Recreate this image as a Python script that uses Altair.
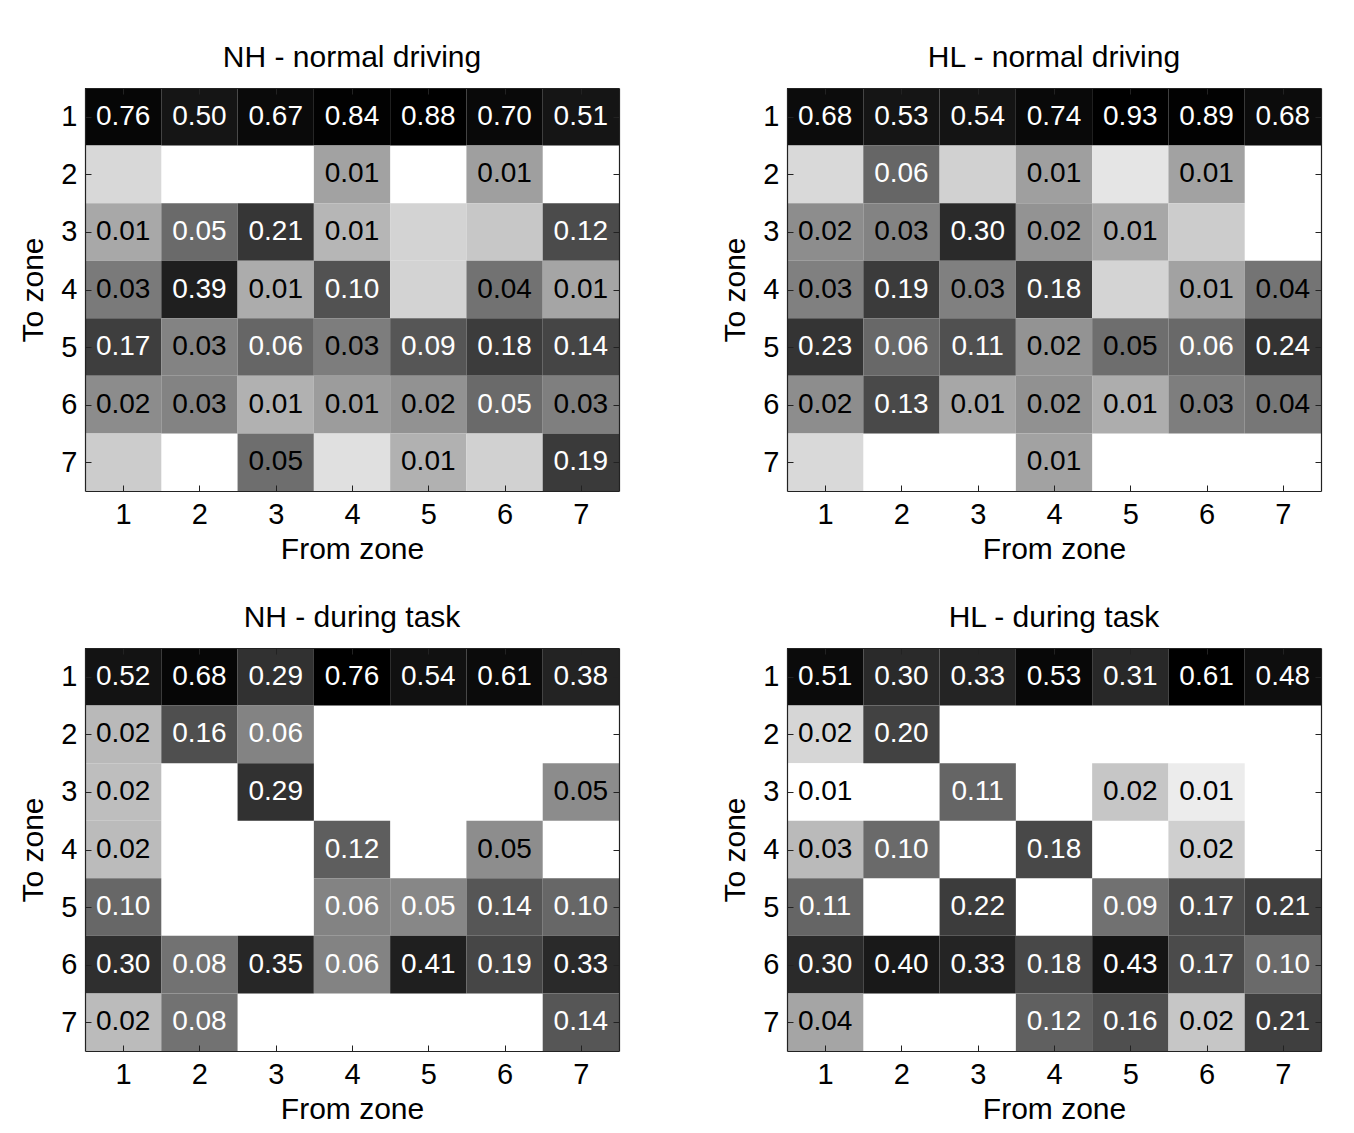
import altair as alt
import pandas as pd

FONT = "Liberation Sans"
ZONES = [1, 2, 3, 4, 5, 6, 7]
TITLES = ["NH - normal driving", "HL - normal driving", "NH - during task", "HL - during task"]

# rows: To zone 1..7 ; columns: From zone 1..7 (transition probabilities)
NH_NORMAL = [
    [0.760, 0.500, 0.670, 0.840, 0.880, 0.700, 0.510],
    [0.0028, 0.000, 0.000, 0.012, 0.000, 0.013, 0.000],
    [0.010, 0.052, 0.210, 0.007, 0.0032, 0.0044, 0.120],
    [0.034, 0.390, 0.009, 0.100, 0.0032, 0.042, 0.011],
    [0.170, 0.027, 0.058, 0.032, 0.090, 0.180, 0.140],
    [0.021, 0.027, 0.008, 0.014, 0.018, 0.052, 0.030],
    [0.0039, 0.000, 0.047, 0.0023, 0.008, 0.0034, 0.190],
]
HL_NORMAL = [
    [0.680, 0.530, 0.540, 0.740, 0.930, 0.890, 0.680],
    [0.0028, 0.060, 0.0034, 0.013, 0.0020, 0.012, 0.000],
    [0.021, 0.028, 0.300, 0.018, 0.0105, 0.0039, 0.000],
    [0.030, 0.190, 0.030, 0.180, 0.0032, 0.012, 0.042],
    [0.230, 0.058, 0.110, 0.018, 0.049, 0.056, 0.240],
    [0.021, 0.130, 0.0105, 0.019, 0.009, 0.032, 0.038],
    [0.0028, 0.000, 0.000, 0.012, 0.000, 0.000, 0.000],
]
NH_TASK = [
    [0.520, 0.680, 0.290, 0.760, 0.540, 0.610, 0.380],
    [0.020, 0.160, 0.058, 0.000, 0.000, 0.000, 0.000],
    [0.018, 0.000, 0.290, 0.000, 0.000, 0.000, 0.048],
    [0.019, 0.000, 0.000, 0.120, 0.000, 0.047, 0.000],
    [0.100, 0.000, 0.000, 0.058, 0.053, 0.140, 0.100],
    [0.300, 0.080, 0.350, 0.057, 0.410, 0.190, 0.330],
    [0.019, 0.080, 0.000, 0.000, 0.000, 0.000, 0.140],
]
HL_TASK = [
    [0.510, 0.300, 0.330, 0.530, 0.310, 0.610, 0.480],
    [0.016, 0.200, 0.000, 0.000, 0.000, 0.000, 0.000],
    [0.007, 0.000, 0.110, 0.000, 0.021, 0.011, 0.000],
    [0.026, 0.100, 0.000, 0.180, 0.000, 0.018, 0.000],
    [0.110, 0.000, 0.220, 0.000, 0.090, 0.170, 0.210],
    [0.300, 0.400, 0.330, 0.180, 0.430, 0.170, 0.100],
    [0.037, 0.000, 0.000, 0.120, 0.160, 0.021, 0.210],
]
MATRICES = [NH_NORMAL, HL_NORMAL, NH_TASK, HL_TASK]
# lower end of the logarithmic grey scale of each panel
COLOR_FLOOR = [0.001, 0.001, 0.005, 0.008]

W, H = 534, 403
FS = 30
LFS = 29
TICK = 6


def panel(mat, title, floor):
    recs = []
    for i, tz in enumerate(ZONES):
        for j, fz in enumerate(ZONES):
            recs.append({"fz": fz, "tz": tz, "v": mat[i][j]})
    df = pd.DataFrame(recs)
    vmax = max(max(r) for r in mat)
    xs = alt.Scale(domain=[0.5, 7.5], nice=False, zero=False)
    ys = alt.Scale(domain=[0.5, 7.5], nice=False, zero=False, reverse=True)
    base = alt.Chart(df)

    cells = base.transform_filter("datum.v > 0").transform_calculate(
        x0="datum.fz - 0.5", x1="datum.fz + 0.5",
        y0="datum.tz - 0.5", y1="datum.tz + 0.5",
    ).mark_rect(stroke=None).encode(
        x=alt.X("x0:Q", scale=xs, axis=alt.Axis(
            orient="bottom", values=ZONES, format="d", ticks=False, domain=True,
            title="From zone", labelPadding=9, titlePadding=5, zindex=2)),
        x2="x1:Q",
        y=alt.Y("y0:Q", scale=ys, axis=alt.Axis(
            orient="left", values=ZONES, format="d", ticks=False, domain=True,
            title="To zone", labelPadding=8, titlePadding=12, zindex=2)),
        y2="y1:Q",
        color=alt.Color("v:Q", scale=alt.Scale(
            type="log", domain=[floor, vmax], range=["#ffffff", "#000000"],
            interpolate="rgb", clamp=True), legend=None),
    )

    labels = base.transform_filter("datum.v >= 0.005").mark_text(
        font=FONT, fontSize=28
    ).encode(
        x=alt.X("fz:Q", scale=xs, axis=alt.Axis(
            orient="bottom", offset=-TICK, tickSize=TICK, values=ZONES, labels=False,
            domain=False, title=None, zindex=2)),
        y=alt.Y("tz:Q", scale=ys, axis=alt.Axis(
            orient="left", offset=-TICK, tickSize=TICK, values=ZONES, labels=False,
            domain=False, title=None, zindex=2)),
        text=alt.Text("v:Q", format=".2f"),
        color=alt.condition("datum.v > 0.05", alt.value("white"), alt.value("black")),
    )

    frame = base.mark_point(opacity=0).encode(
        x=alt.X("fz:Q", scale=xs, axis=alt.Axis(
            orient="top", values=ZONES, labels=False, ticks=False,
            domain=True, title=None, zindex=2)),
        y=alt.Y("tz:Q", scale=ys, axis=alt.Axis(
            orient="right", values=ZONES, labels=False, ticks=False,
            domain=True, title=None, zindex=2)),
    )

    ticks2 = base.mark_point(opacity=0).encode(
        x=alt.X("fz:Q", scale=xs, axis=alt.Axis(
            orient="top", offset=-TICK, tickSize=TICK, values=ZONES, labels=False,
            domain=False, title=None, zindex=2)),
        y=alt.Y("tz:Q", scale=ys, axis=alt.Axis(
            orient="right", offset=-TICK, tickSize=TICK, values=ZONES, labels=False,
            domain=False, title=None, zindex=2)),
    )

    return alt.layer(cells, labels, frame, ticks2).resolve_axis(
        x="independent", y="independent"
    ).properties(
        width=W, height=H,
        title=alt.TitleParams(title, font=FONT, fontSize=FS, fontWeight="normal",
                              color="black", offset=15),
    )


panels = [panel(m, t, f) for m, t, f in zip(MATRICES, TITLES, COLOR_FLOOR)]

top = alt.hconcat(panels[0], panels[1], spacing=100).resolve_scale(color="independent")
bottom = alt.hconcat(panels[2], panels[3], spacing=100).resolve_scale(color="independent")

chart = alt.vconcat(top, bottom, spacing=38).resolve_scale(color="independent").configure(
    padding={"left": 10, "top": 34, "right": 5, "bottom": 5},
    background="white",
).configure_axis(
    labelFont=FONT, labelFontSize=LFS, labelColor="black",
    titleFont=FONT, titleFontSize=FS, titleFontWeight="normal", titleColor="black",
    tickColor="#222222", domainColor="#222222", tickWidth=1, domainWidth=1.2,
    grid=False, labelOverlap=False, labelFlush=False,
).configure_view(stroke=None)

chart.save("out.html", embed_options={"renderer": "svg", "actions": False})
